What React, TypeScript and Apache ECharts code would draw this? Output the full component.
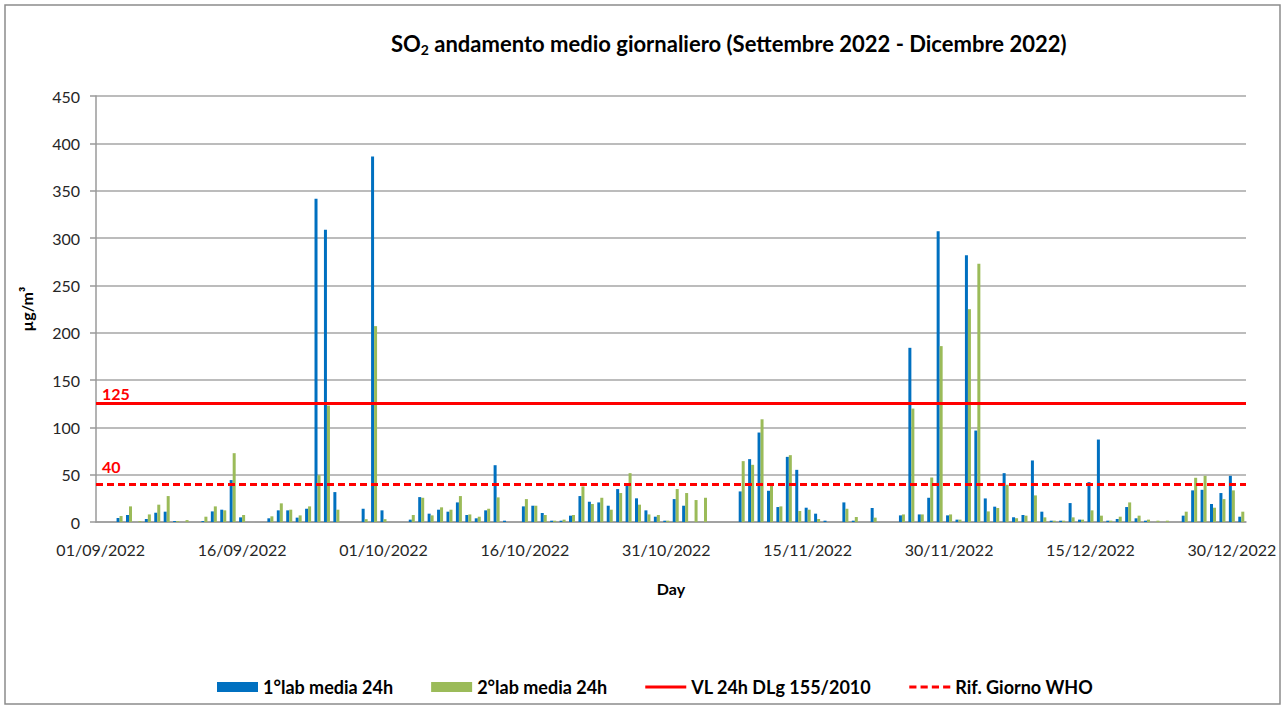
import React, { useEffect, useRef } from "react";
import * as echarts from "echarts";

const startDate = { year: 2022, month: 9, day: 1 };
const dayCount = 122;
const categories: string[] = (() => {
  const out: string[] = [];
  const d = new Date(startDate.year, startDate.month - 1, startDate.day);
  for (let i = 0; i < dayCount; i++) {
    const dd = String(d.getDate()).padStart(2, "0");
    const mm = String(d.getMonth() + 1).padStart(2, "0");
    out.push(`${dd}/${mm}/${d.getFullYear()}`);
    d.setDate(d.getDate() + 1);
  }
  return out;
})();

const lab1: (number | null)[] = [
  null, null, 4.2, 7.4, null, 3.2, 9.8, 10.9, 1, null,
  null, 1, 11.2, 13, 44.3, 4.9, null, null, 3.9, 12.3,
  12.3, 4.6, 14, 341.4, 308.7, 31.6, null, null, 14, 386,
  12.3, null, null, 2.5, 26.3, 8.8, 13, 10.9, 20.7, 7.4,
  3.9, 12.3, 60, 1.4, null, 16.5, 17.2, 9.5, 1.4, 1.4,
  6.7, 27.4, 21.4, 20.7, 17.2, 34.8, 40.4, 25, 12.3, 5.6,
  1.4, 24.2, 17.2, null, null, null, null, null, 32.3, 66.4,
  94.5, 33, 15.8, 68.8, 55.1, 15.1, 8.8, 1.4, null, 20.7,
  1.4, null, 14.8, null, null, 7, 184, 8, 25.6, 307,
  7, 2.5, 281.7, 96.6, 24.9, 16.2, 51.6, 5, 7.4, 65,
  10.9, 1.4, 1.4, 20, 2.5, 42.1, 87.1, 1.4, 3.2, 15.8,
  3.9, 1.4, null, null, null, 6.7, 33.4, 34, 19, 30.6,
  48.8, 5.6,
];

const lab2: (number | null)[] = [
  null, null, 6.3, 16.5, 1, 8, 18.3, 27.4, 1, 2,
  null, 5.6, 16.5, 12.3, 72.7, 7.4, null, null, 6, 19.7,
  13, 7, 16.5, 49.5, 123, 13, null, null, 3, 206.9,
  3, null, null, 7.4, 25.6, 7, 15.5, 13, 27.4, 8,
  5.6, 14, 26, null, null, 24.2, 17.2, 7.4, 1.4, 2.5,
  7.4, 37.6, 19, 25.6, 13, 30.6, 51.6, 18.3, 8, 7.4,
  1.4, 34.8, 30.6, 23.2, 25.6, null, null, null, 64.3, 60.4,
  108.5, 39, 16.5, 70.6, 11.6, 13, 3.2, null, null, 14,
  5.3, null, 4.6, null, null, 8, 119.8, 8, 47, 185.8,
  8, 2.5, 224.8, 272.9, 11.2, 14.8, 39.3, 4, 6.7, 28.1,
  4.9, 1.4, 1.4, 4.9, 2.5, 12.3, 6.7, 1.4, 5.6, 20.7,
  6.7, 2.5, 1.4, 1.4, null, 10.9, 46.7, 48.8, 15.1, 24.2,
  33.4, 10.9,
];

const limitVL = 125;
const limitWHO = 40;
const seriesNames = ["1°lab media 24h", "2°lab media 24h", "VL 24h DLg 155/2010", "Rif. Giorno WHO"];
const yMin = 0;
const yMax = 450;
const yInterval = 50;

const FONT = "Lato";
const RED = "#FF0000";
const solidIcon = "path://M0 0H40V3H0Z";
const dashedIcon = "path://M0 0H7V3H0Z M11 0H18V3H11Z M22 0H29V3H22Z M33 0H40V3H33Z";

export default function App() {
  const ref = useRef<HTMLDivElement>(null);
  useEffect(() => {
    document.body.style.margin = "0";
    const chart = echarts.init(ref.current!, null, { renderer: "svg" });
    chart.setOption({
      animation: false,
      backgroundColor: "#ffffff",
      textStyle: { fontFamily: FONT },
      title: {
        left: 386,
        top: 27,
        text: "{a|SO}{sub|2}{a| andamento medio giornaliero (Settembre 2022 - Dicembre 2022)}",
        textStyle: {
          rich: {
            a: { fontFamily: FONT, fontSize: 22, fontWeight: "bold", color: "#000", lineHeight: 28, verticalAlign: "top" },
            sub: { fontFamily: FONT, fontSize: 14, fontWeight: "bold", color: "#000", verticalAlign: "top", padding: [10, 0, 0, 0] },
          },
        },
      },
      graphic: [
        {
          type: "rect",
          shape: { x: 5, y: 5, width: 1275, height: 699 },
          style: { fill: "none", stroke: "#8c8c8c", lineWidth: 1.5 },
          silent: true,
        },
      ],
      legend: {
        top: 673,
        left: 212,
        itemWidth: 41,
        itemHeight: 10,
        itemGap: 38,
        textStyle: { fontFamily: FONT, fontSize: 18, fontWeight: "bold", color: "#000" },
        data: [
          { name: seriesNames[0], icon: "rect" },
          { name: seriesNames[1], icon: "rect" },
          { name: seriesNames[2], icon: solidIcon },
          { name: seriesNames[3], icon: dashedIcon },
        ],
      },
      grid: { left: 96, right: 39, top: 96, bottom: 187 },
      xAxis: {
        type: "category",
        data: categories,
        boundaryGap: true,
        name: "Day",
        nameLocation: "middle",
        nameGap: 58,
        nameTextStyle: { fontFamily: FONT, fontSize: 16, fontWeight: "bold", color: "#000" },
        axisLine: { lineStyle: { color: "#9a9a9a", width: 1.5 } },
        axisTick: { show: false },
        axisLabel: { interval: 14, fontFamily: FONT, fontSize: 16, color: "#262626", margin: 19 },
      },
      yAxis: {
        type: "value",
        min: yMin,
        max: yMax,
        interval: yInterval,
        name: "µg/m³",
        nameLocation: "middle",
        nameRotate: 90,
        nameGap: 62,
        nameTextStyle: { fontFamily: FONT, fontSize: 16, fontWeight: "bold", color: "#000" },
        axisLine: { show: true, lineStyle: { color: "#9a9a9a", width: 1.5 } },
        axisTick: { show: true, length: 6, lineStyle: { color: "#9a9a9a", width: 1.5 } },
        axisLabel: { fontFamily: FONT, fontSize: 16, color: "#262626", margin: 16 },
        splitLine: { lineStyle: { color: "#a6a6a6", width: 1.5 } },
      },
      series: [
        {
          name: seriesNames[0],
          type: "bar",
          data: lab1,
          barWidth: 3,
          barGap: "0%",
          itemStyle: { color: "#0070C0" },
        },
        {
          name: seriesNames[1],
          type: "bar",
          data: lab2,
          barWidth: 3,
          barGap: "0%",
          itemStyle: { color: "#9BBB59" },
        },
        {
          name: seriesNames[2],
          type: "line",
          data: [],
          symbol: "none",
          itemStyle: { color: RED },
          lineStyle: { color: RED, width: 3, type: "solid" },
          markLine: {
            silent: true,
            symbol: "none",
            lineStyle: { color: RED, width: 3, type: "solid" },
            label: {
              show: true,
              position: "insideStartTop",
              formatter: String(limitVL),
              color: RED,
              fontFamily: FONT,
              fontSize: 16,
              fontWeight: "bold",
              distance: [6, 2],
            },
            data: [{ yAxis: limitVL }],
          },
        },
        {
          name: seriesNames[3],
          type: "line",
          data: [],
          symbol: "none",
          itemStyle: { color: RED },
          lineStyle: { color: RED, width: 3, type: [7, 4] },
          markLine: {
            silent: true,
            symbol: "none",
            lineStyle: { color: RED, width: 3, type: [7, 4] },
            label: {
              show: true,
              position: "insideStartTop",
              formatter: String(limitWHO),
              color: RED,
              fontFamily: FONT,
              fontSize: 16,
              fontWeight: "bold",
              distance: [6, 10],
            },
            data: [{ yAxis: limitWHO }],
          },
        },
      ],
    });
    return () => chart.dispose();
  }, []);
  return <div ref={ref} style={{ width: 1285, height: 709 }} />;
}
